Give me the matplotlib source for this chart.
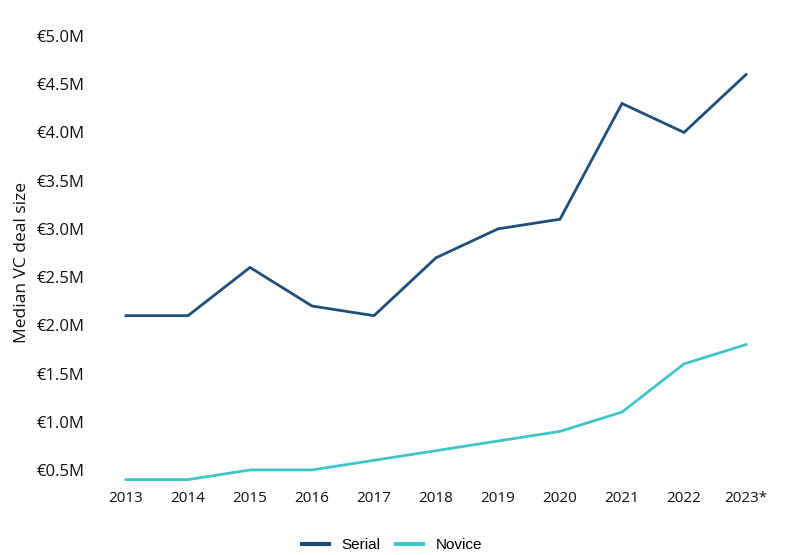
import matplotlib
matplotlib.use("Agg")
import matplotlib.pyplot as plt
from matplotlib.lines import Line2D

years = ["2013", "2014", "2015", "2016", "2017", "2018", "2019", "2020", "2021", "2022", "2023*"]
serial = [2.1, 2.1, 2.6, 2.2, 2.1, 2.7, 3.0, 3.1, 4.3, 4.0, 4.6]
novice = [0.4, 0.4, 0.5, 0.5, 0.6, 0.7, 0.8, 0.9, 1.1, 1.6, 1.8]
yticks = [0.5, 1.0, 1.5, 2.0, 2.5, 3.0, 3.5, 4.0, 4.5, 5.0]

SERIAL = "#1f4e79"; NOVICE = "#3fc5c8"; INK = "#111111"
plt.rcParams.update({"font.family": ["Open Sans", "DejaVu Sans"]})

W, H = 805, 555
fig = plt.figure(figsize=(W / 100, H / 100), dpi=100)
ax = fig.add_axes([126 / W, 1 - 479.6 / H, (746 - 126) / W, (479.6 - 36) / H])
x = list(range(len(years)))
ax.plot(x, serial, color=SERIAL, lw=2, clip_on=False, solid_joinstyle="miter")
ax.plot(x, novice, color=NOVICE, lw=2, clip_on=False, solid_joinstyle="miter")
ax.set_xlim(0, len(years) - 1)
ax.set_ylim(0.4, 5.0)
ax.set_yticks(yticks)
ax.set_yticklabels([f"€{v:.1f}M" for v in yticks], fontsize=12, color=INK)
for lab in ax.get_yticklabels():
    lab.set_horizontalalignment("left")
ax.tick_params(axis="y", length=0, pad=64)
ax.set_xticks(x)
ax.set_xticklabels(years, fontsize=11, color=INK)
ax.tick_params(axis="x", length=0, pad=8)
for s in ax.spines.values():
    s.set_visible(False)
fig.text(22 / W, 1 - 262 / H, "Median VC deal size", rotation=90, ha="center", va="center",
         fontsize=12.5, color=INK)

handles = [Line2D([], [], color=SERIAL, lw=3), Line2D([], [], color=NOVICE, lw=3)]
fig.legend(handles, ["Serial", "Novice"], loc="center", bbox_to_anchor=(392 / W, 1 - 545 / H),
           ncol=2, frameon=False, handlelength=1.8, columnspacing=1.0,
           prop={"family": ["Liberation Sans"], "size": 11})
fig.savefig("out.png", dpi=100, facecolor="white")
